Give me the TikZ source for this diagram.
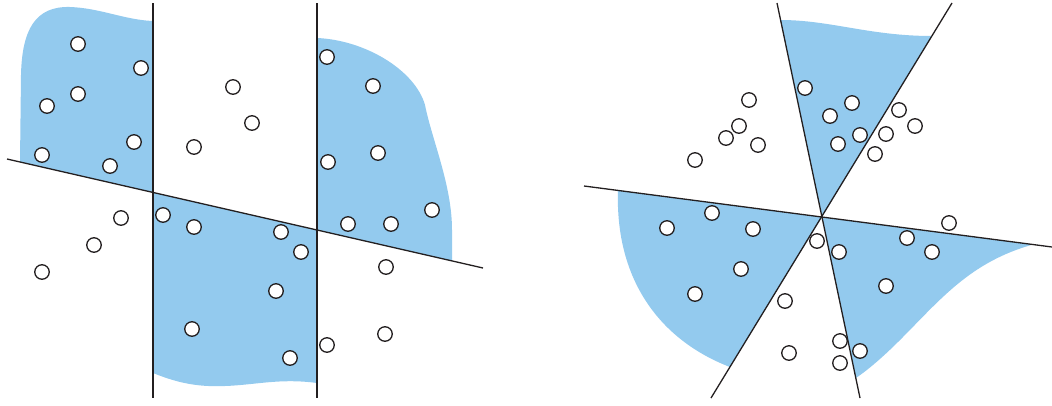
\documentclass[tikz,border=0pt]{standalone}
\usepackage{tikz}
\usetikzlibrary{positioning}
\definecolor{RegionBlue}{HTML}{93CAEE}
\definecolor{InkBlack}{HTML}{231F20}

\begin{document}
\begin{tikzpicture}[x=1pt,y=-1pt,
      region/.style={fill=RegionBlue,draw=none},
      cut/.style={draw=InkBlack,line width=1.3pt},
      sample/.style={circle,draw=InkBlack,fill=white,line width=1.3pt,minimum size=14.5pt,inner sep=0pt}
    ]
      \useasboundingbox (0,0) rectangle (1052,405);

      % left: axis-parallel cuts
      \coordinate (vonetop) at (153,3);
      \coordinate (vonebot) at (153,398);
      \coordinate (vtwotop) at (317,3);
      \coordinate (vtwobot) at (317,398);
      \coordinate (slantl) at (7,159);
      \coordinate (slantr) at (483,268);

      \fill[region] (153,192.4) -- (153,21) .. controls (125,20) and (100,8) .. (70,7)
        .. controls (35,6) and (22,30) .. (21,75) -- (20,162) -- cycle;
      \fill[region] (153,192.4) -- (317,230) -- (317,383) .. controls (280,378) and (255,385) .. (225,386)
        .. controls (200,387) and (180,384) .. (153,373) -- cycle;
      \fill[region] (317,230) -- (317,38) .. controls (365,40) and (415,70) .. (425,105)
        .. controls (432,140) and (452,185) .. (452,230) -- (452,261) -- cycle;

      \draw[cut] (vonetop) -- (vonebot);
      \draw[cut] (vtwotop) -- (vtwobot);
      \draw[cut] (slantl) -- (slantr);

      % right: three lines through one point
      \coordinate (ctr) at (822,217);
      \coordinate (honel) at (584,186);
      \coordinate (honer) at (1052,247);
      \coordinate (stwot) at (777,3);
      \coordinate (stwob) at (860,398);
      \coordinate (sthreet) at (952,3);
      \coordinate (sthreeb) at (711,398);

      \fill[region] (ctr) -- (780.6,20) .. controls (830,20) and (870,36) .. (931.9,36) -- cycle;
      \fill[region] (ctr) -- (618,190.4) .. controls (615,280) and (660,340) .. (729.9,367) -- cycle;
      \fill[region] (ctr) -- (1033,244.5) .. controls (970,262) and (940,300) .. (900,340)
        .. controls (880,360) and (865,372) .. (855.8,378) -- cycle;

      \draw[cut] (honel) -- (honer);
      \draw[cut] (stwot) -- (stwob);
      \draw[cut] (sthreet) -- (sthreeb);

      % sample points
      \foreach \x/\y [count=\i] in {78/44,141/68,78/94,47/106,134/142,42/155,110/166,233/87,252/123,194/147,
          327/57,373/86,328/162,378/153,121/218,94/245,42/272,163/215,194/227,192/329,
          281/232,301/252,276/291,290/358,348/224,391/224,432/210,386/267,385/334,327/345}
        \node[sample] (pl\i) at (\x,\y) {};
      \foreach \x/\y [count=\i] in {805/88,749/100,739/126,726/138,758/145,695/160,852/103,830/116,838/144,860/135,
          899/110,915/126,886/134,875/154,712/213,667/228,753/229,741/269,695/294,785/301,
          789/353,817/241,839/252,907/238,932/252,949/223,886/286,840/341,860/351,840/363}
        \node[sample] (pr\i) at (\x,\y) {};
    \end{tikzpicture}
\end{document}
